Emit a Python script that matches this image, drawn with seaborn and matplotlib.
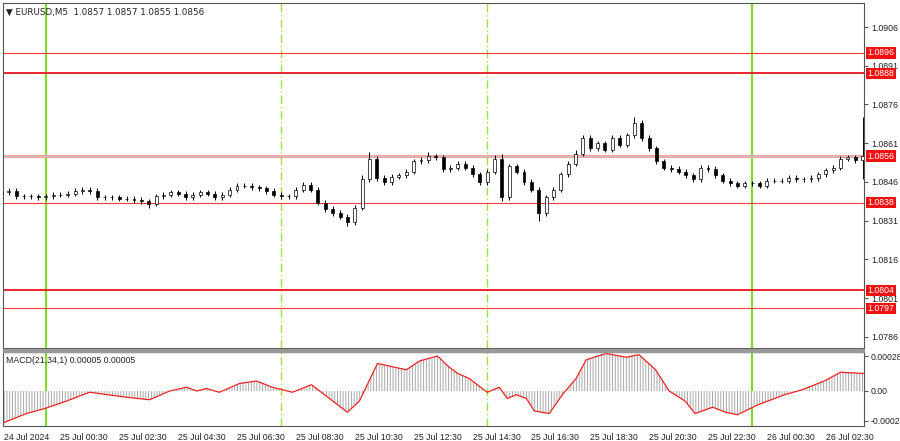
import numpy as np
import pandas as pd
import matplotlib
matplotlib.use("Agg")
import matplotlib.pyplot as plt
import matplotlib.transforms as mtransforms
import seaborn as sns

sns.set_style("white")
plt.rcParams['font.family'] = ['Liberation Sans', 'DejaVu Sans']
plt.rcParams['hatch.linewidth'] = 0.7

# ---- data: 15-minute candles, closes in pips above 1.0800, starting 24 Jul 22:30 ----
closes = [42,42.5,40.5,40.5,40.5,40,40.5,
          41,41,41.5,42.5,43,42.5,40,40,
          40,39.5,39.5,39,38.5,37.5,40.5,41,
          42,41.5,40,41,42,41.5,40,41,
          43,44.5,44.5,44,43.5,42.5,41,40.5,
          40.5,43,45,43,38,35.5,34,32.5,
          30.5,36,47,55,47.5,46,48,48.5,
          50,54,54.5,56,55.5,51,51.5,53,
          51.5,49,46,50,55,40,52,50,
          46,43,34,40,43,49,53,57,
          63,59,61,58.5,63,60.5,64,69,
          63,59,54,51.5,51,50,48.5,47,
          51.5,51,48.5,46.5,45.5,44.5,45.5,45.5,
          44.5,46.5,46.5,46.5,47.5,47,47,47.5,
          49,50.5,51.5,55,55.5,54.5,56]
first_open = 41.5
wick_hi = [1,1,1,1,1,1,1, 1,1,1,1,1,1,1,1, 1,1,1,1,1,1,1,1, 1,1,1,1,1,1,1,1,
           1,1,1,1,1,1,1,1, 1,1,1,1,1,1,1,1, 1,1,1.5,2.5,1,1,1,1, 1,1,1,1.5,1,1,1,1,
           1,1,1,1,1.5,2,1,1, 1,1,1,1,1,1,1,1.5, 1,1,1,1,1,1,1,2,
           1,1,1,1,1,1,1,1, 1,1,1,1,1,1,1,1, 1,1,1,1,1,1,1,1, 1,1,1,1,1,1,15]
wick_lo = [1,1,1,1,1,1,1, 1,1,1,1,1,1,1,1, 1,1,1,1,1,1.5,1,1, 1,1,1,1,1,1,1,1,
           1,1,1,1,1,1,1,1, 1,1,1,1,1,1,1,1, 1.5,1,1,1,1,1,1,1, 1,1,1,1,1,1,1,1,
           1,1,1,1,1,1.5,1,1, 1,1,3,1,1,1,1,1, 1,1,1,1,1,1,1,1,
           1,1,1,1,1,1,1,1, 1,1,1,1,1,1,1,1, 1,1,1,1,1,1,1,1, 1,1,1,1,1,1,7.5]

levels_thick = [1.0888, 1.0804]
levels_thin = [1.0896, 1.0838, 1.0797]
level_current = 1.0856
price_ticks = [1.0906, 1.0891, 1.0876, 1.0861, 1.0846, 1.0831, 1.0816, 1.0801, 1.0786]

# MACD (hour relative to 25 Jul 00:00, value)
macd_h = [-1.5,-0.65,-0.03,0.71,1.49,2.75,3.53,4.21,4.79,5.13,5.46,5.9,6.58,7.16,7.7,
          8.38,9.03,9.64,10.25,10.66,11.27,12.25,12.7,13.31,13.71,14.0,14.39,15.0,15.41,
          15.68,15.99,16.33,16.6,17.11,17.55,18.02,18.36,19.04,19.72,20.16,20.72,21.18,21.72,
          22.06,22.66,23.1,23.5,24.2,25.1,25.7,26.45,27.0,27.8]
macd_v = [-0.00026,-0.00018,-0.00014,-0.00008,-0.00001,-0.00005,-0.00007,0.0,0.00003,0.0,
          0.00002,-0.00001,0.00006,0.00008,0.00003,-0.00001,0.00005,-0.00006,-0.00017,-0.00008,
          0.00022,0.00017,0.00024,0.00028,0.00019,0.00014,0.0001,-0.00001,0.00003,-0.00006,
          -0.00003,-0.00006,-0.00016,-0.00018,-0.00003,0.0001,0.00025,0.0003,0.00027,0.00029,
          0.00017,0.0,-0.00008,-0.00018,-0.00013,-0.00017,-0.00019,-0.00011,-0.00003,0.00001,
          0.00008,0.00015,0.00014]

tick_hours = [-1.4] + [0.5 + 2 * i for i in range(14)]
tick_labels = ["24 Jul 2024"] + ["25 Jul %02d:30" % (0 + 2 * i) for i in range(12)] + \
              ["26 Jul 00:30", "26 Jul 02:30"]
green_solid = [0.0, 24.0]
green_dash = [8.0, 15.0]

# ---- build ----
times = pd.date_range("2024-07-24 22:30", periods=len(closes), freq="15min")
hours = (times - pd.Timestamp("2024-07-25 00:00")).total_seconds() / 3600.0
c = 1.08 + np.array(closes) / 10000.0
o = np.concatenate([[1.08 + first_open / 10000.0], c[:-1]])
hi = np.maximum(o, c) + np.array(wick_hi) / 10000.0
lo = np.minimum(o, c) - np.array(wick_lo) / 10000.0
df = pd.DataFrame({"h": hours, "o": o, "c": c, "hi": hi, "lo": lo})

fig = plt.figure(figsize=(9, 4.41), dpi=100)
fig.patch.set_facecolor("white")
ax = fig.add_axes([3/900, 1-348/441, 861/900, 345/441])
axm = fig.add_axes([3/900, 1-426/441, 861/900, 74/441])
xlim = (-1.45, 27.8)
FS = 6.3

for a in (ax, axm):
    a.set_xlim(*xlim)
    for s in a.spines.values():
        s.set_color("#555555")
        s.set_linewidth(0.8)
    a.yaxis.tick_right()
    a.tick_params(axis="y", labelsize=FS, length=3, color="#555555", pad=2, labelcolor="#222222")
    for hx in green_solid:
        a.axvline(hx, color="#7fdd22", lw=1.5, zorder=1)
    for hx in green_dash:
        a.axvline(hx, color="#9be33c", lw=1.0, ls=(0, (6, 2, 1, 2)), zorder=1)

# levels
for L in levels_thick:
    ax.axhline(L, color="#e8141c", lw=1.3, zorder=2)
for L in levels_thin:
    ax.axhline(L, color="#ee3a3a", lw=0.8, zorder=2)
ax.axhline(level_current, color="#f4a0a0", lw=2.2, zorder=2)
ax.axhline(level_current, color="#c8c8c8", lw=0.6, zorder=2)

# candles
w = 0.1
ax.vlines(df["h"], df["lo"], df["hi"], color="black", lw=0.7, zorder=3)
up = df[df["c"] >= df["o"]]
dn = df[df["c"] < df["o"]]
ax.bar(up["h"], up["c"] - up["o"], bottom=up["o"], width=w, color="white",
       edgecolor="black", linewidth=0.5, zorder=4)
ax.bar(dn["h"], dn["o"] - dn["c"], bottom=dn["c"], width=w, color="black",
       edgecolor="black", linewidth=0.5, zorder=4)

ax.set_ylim(1.07817, 1.09153)
ax.set_yticks(price_ticks)
ax.set_yticklabels(["%.4f" % t for t in price_ticks])
ax.set_xticks([])

trans = mtransforms.blended_transform_factory(ax.transAxes, ax.transData)
for L in levels_thick + levels_thin + [level_current]:
    ax.text(1.004, L, "%.4f" % L, transform=trans, fontsize=FS, color="white",
            va="center", ha="left", clip_on=False, zorder=6,
            bbox=dict(boxstyle="square,pad=0.15", fc="#f01010", ec="none"))

ax.text(0.004, 0.985, "\u25bc EURUSD,M5  1.0857 1.0857 1.0855 1.0856", transform=ax.transAxes,
        fontsize=FS, va="top", ha="left", color="#222222", family=['DejaVu Sans'])

# MACD
mdf = pd.DataFrame({"h": macd_h, "v": macd_v})
axm.fill_between(mdf["h"], 0, mdf["v"], facecolor="white", edgecolor="#a8a8a8",
                 hatch="||||||", linewidth=0, zorder=2)
sns.lineplot(data=mdf, x="h", y="v", ax=axm, color="#ee2222", lw=0.9, zorder=3)
axm.set_xlim(*xlim)
axm.set_ylim(-0.00028, 0.000312)
axm.set_yticks([0.00028, 0.0, -0.00024])
axm.set_yticklabels(["0.00028", "0.00", "-0.00024"])
axm.set_ylabel("")
axm.set_xlabel("")
axm.set_xticks(tick_hours)
axm.set_xticklabels(tick_labels, ha="left")
axm.tick_params(axis="x", labelsize=FS, length=3, pad=2, color="#555555", labelcolor="#222222")
axm.text(0.004, 0.94, "MACD(21,34,1) 0.00005 0.00005", transform=axm.transAxes,
         fontsize=FS, va="top", ha="left", color="#222222")

# separator band
fig.patches.append(plt.Rectangle((3/900, 1-352/441), 861/900, 3/441,
                                 transform=fig.transFigure, color="#999999"))

fig.savefig("out.png", dpi=100, facecolor="white")
